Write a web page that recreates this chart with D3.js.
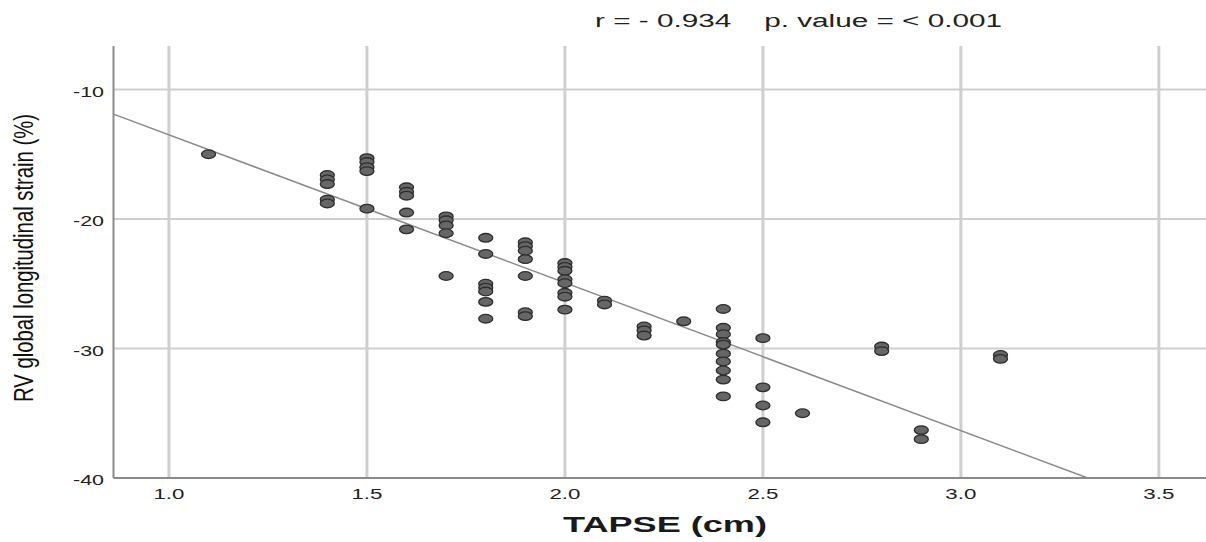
<!DOCTYPE html>
<html>
<head>
<meta charset="utf-8">
<script src="https://cdn.jsdelivr.net/npm/d3@7"></script>
<style>
  body { margin: 0; background: #fff; }
  text { font-family: "Liberation Sans", Arial, sans-serif; fill: #222; }
</style>
</head>
<body>
<div id="chart"></div>
<script>
var width = 1206,
    height = 542;

// TAPSE (cm) vs RV global longitudinal strain (%)
var tapse = [1.1,
  1.4, 1.4, 1.4, 1.4, 1.4,
  1.5, 1.5, 1.5, 1.5, 1.5,
  1.6, 1.6, 1.6, 1.6, 1.6,
  1.7, 1.7, 1.7, 1.7, 1.7,
  1.8, 1.8, 1.8, 1.8, 1.8, 1.8, 1.8,
  1.9, 1.9, 1.9, 1.9, 1.9, 1.9, 1.9,
  2.0, 2.0, 2.0, 2.0, 2.0, 2.0, 2.0, 2.0,
  2.1, 2.1,
  2.2, 2.2, 2.2,
  2.3,
  2.4, 2.4, 2.4, 2.4, 2.4, 2.4, 2.4, 2.4, 2.4, 2.4,
  2.5, 2.5, 2.5, 2.5,
  2.6,
  2.8, 2.8,
  2.9, 2.9,
  3.1, 3.1];
var strain = [-15.0,
  -16.6, -16.95, -17.3, -18.5, -18.8,
  -15.3, -15.6, -16.0, -16.3, -19.2,
  -17.55, -17.9, -18.2, -19.5, -20.8,
  -19.8, -20.1, -20.5, -21.1, -24.4,
  -21.45, -22.7, -25.0, -25.3, -25.6, -26.4, -27.7,
  -21.8, -22.1, -22.45, -23.1, -24.4, -27.2, -27.5,
  -23.4, -23.7, -24.0, -24.65, -24.96, -25.7, -26.0, -27.0,
  -26.3, -26.6,
  -28.3, -28.6, -29.0,
  -27.9,
  -26.95, -28.4, -28.9, -29.5, -29.7, -30.4, -31.0, -31.7, -32.4, -33.7,
  -29.2, -33.0, -34.4, -35.7,
  -35.0,
  -29.85, -30.2,
  -36.3, -37.0,
  -30.5, -30.8];

var xTicks = [1.0, 1.5, 2.0, 2.5, 3.0, 3.5];
var yTicks = [-10, -20, -30, -40];

// fit line
var fitIntercept = -2.08,
    fitSlope = -11.42;

drawChart();

function drawChart(){
  var pLeft = 113.5, pRight = 1206, pTop = 46, pBottom = 478;

  var x = d3.scaleLinear().domain([0.86, 3.619]).range([pLeft, pRight]);
  var y = d3.scaleLinear().domain([-40, -6.64]).range([pBottom, pTop]);

  var svg = d3.select("#chart")
      .append("svg")
      .attr("width", width)
      .attr("height", height);

  svg.append("clipPath").attr("id", "plot")
    .append("rect")
    .attr("x", pLeft).attr("y", pTop)
    .attr("width", pRight - pLeft).attr("height", pBottom - pTop);

  // grid
  svg.selectAll(".hgrid")
    .data(yTicks.filter(function(d){ return d !== -40; }))
    .enter().append("line")
    .attr("class", "hgrid")
    .attr("x1", pLeft).attr("x2", pRight)
    .attr("y1", function(d){ return y(d); })
    .attr("y2", function(d){ return y(d); })
    .attr("stroke", "#cfcfcf")
    .attr("stroke-width", 2);

  svg.selectAll(".vgrid")
    .data(xTicks)
    .enter().append("line")
    .attr("class", "vgrid")
    .attr("x1", function(d){ return x(d); })
    .attr("x2", function(d){ return x(d); })
    .attr("y1", pTop).attr("y2", pBottom)
    .attr("stroke", "#cfcfcf")
    .attr("stroke-width", 3);

  // axis lines
  svg.append("line")
    .attr("x1", pLeft).attr("x2", pLeft)
    .attr("y1", pTop).attr("y2", pBottom)
    .attr("stroke", "#8a8a8a").attr("stroke-width", 2);
  svg.append("line")
    .attr("x1", pLeft).attr("x2", pRight)
    .attr("y1", pBottom).attr("y2", pBottom)
    .attr("stroke", "#8a8a8a").attr("stroke-width", 2);

  // fit line
  svg.append("line")
    .attr("clip-path", "url(#plot)")
    .attr("x1", x(0.86)).attr("y1", y(fitIntercept + fitSlope * 0.86))
    .attr("x2", x(3.6)).attr("y2", y(fitIntercept + fitSlope * 3.6))
    .attr("stroke", "#8a8a8a")
    .attr("stroke-width", 1.5);

  // points
  svg.selectAll(".pt")
    .data(d3.range(tapse.length))
    .enter().append("ellipse")
    .attr("class", "pt")
    .attr("cx", function(i){ return x(tapse[i]); })
    .attr("cy", function(i){ return y(strain[i]); })
    .attr("rx", 7)
    .attr("ry", 4.3)
    .attr("fill", "#666")
    .attr("stroke", "#2e2e2e")
    .attr("stroke-width", 1.3);

  // tick labels
  svg.selectAll(".xt")
    .data(xTicks)
    .enter().append("text")
    .attr("class", "xt")
    .attr("x", function(d){ return x(d); })
    .attr("y", 499)
    .attr("text-anchor", "middle")
    .attr("textLength", 31)
    .attr("lengthAdjust", "spacingAndGlyphs")
    .style("font-size", "15px")
    .text(function(d){ return d.toFixed(1); });

  svg.selectAll(".yt")
    .data(yTicks)
    .enter().append("text")
    .attr("class", "yt")
    .attr("x", 104)
    .attr("y", function(d){ return y(d) + 7; })
    .attr("text-anchor", "end")
    .attr("textLength", 31)
    .attr("lengthAdjust", "spacingAndGlyphs")
    .style("font-size", "15px")
    .text(function(d){ return d; });

  // titles
  svg.append("text")
    .attr("x", 665)
    .attr("y", 532)
    .attr("text-anchor", "middle")
    .attr("textLength", 204)
    .attr("lengthAdjust", "spacingAndGlyphs")
    .style("font-size", "22px")
    .style("font-weight", "bold")
    .style("fill", "#1a1a1a")
    .text("TAPSE (cm)");

  svg.append("text")
    .attr("transform", "translate(33,258) rotate(-90)")
    .attr("text-anchor", "middle")
    .attr("textLength", 288)
    .attr("lengthAdjust", "spacingAndGlyphs")
    .style("font-size", "27px")
    .style("fill", "#111")
    .text("RV global longitudinal strain (%)");

  svg.append("text")
    .attr("x", 595)
    .attr("y", 27)
    .attr("text-anchor", "start")
    .attr("textLength", 407)
    .attr("lengthAdjust", "spacingAndGlyphs")
    .style("font-size", "18px")
    .attr("xml:space", "preserve")
    .text("r = - 0.934    p. value = < 0.001");
}
</script>
</body>
</html>
